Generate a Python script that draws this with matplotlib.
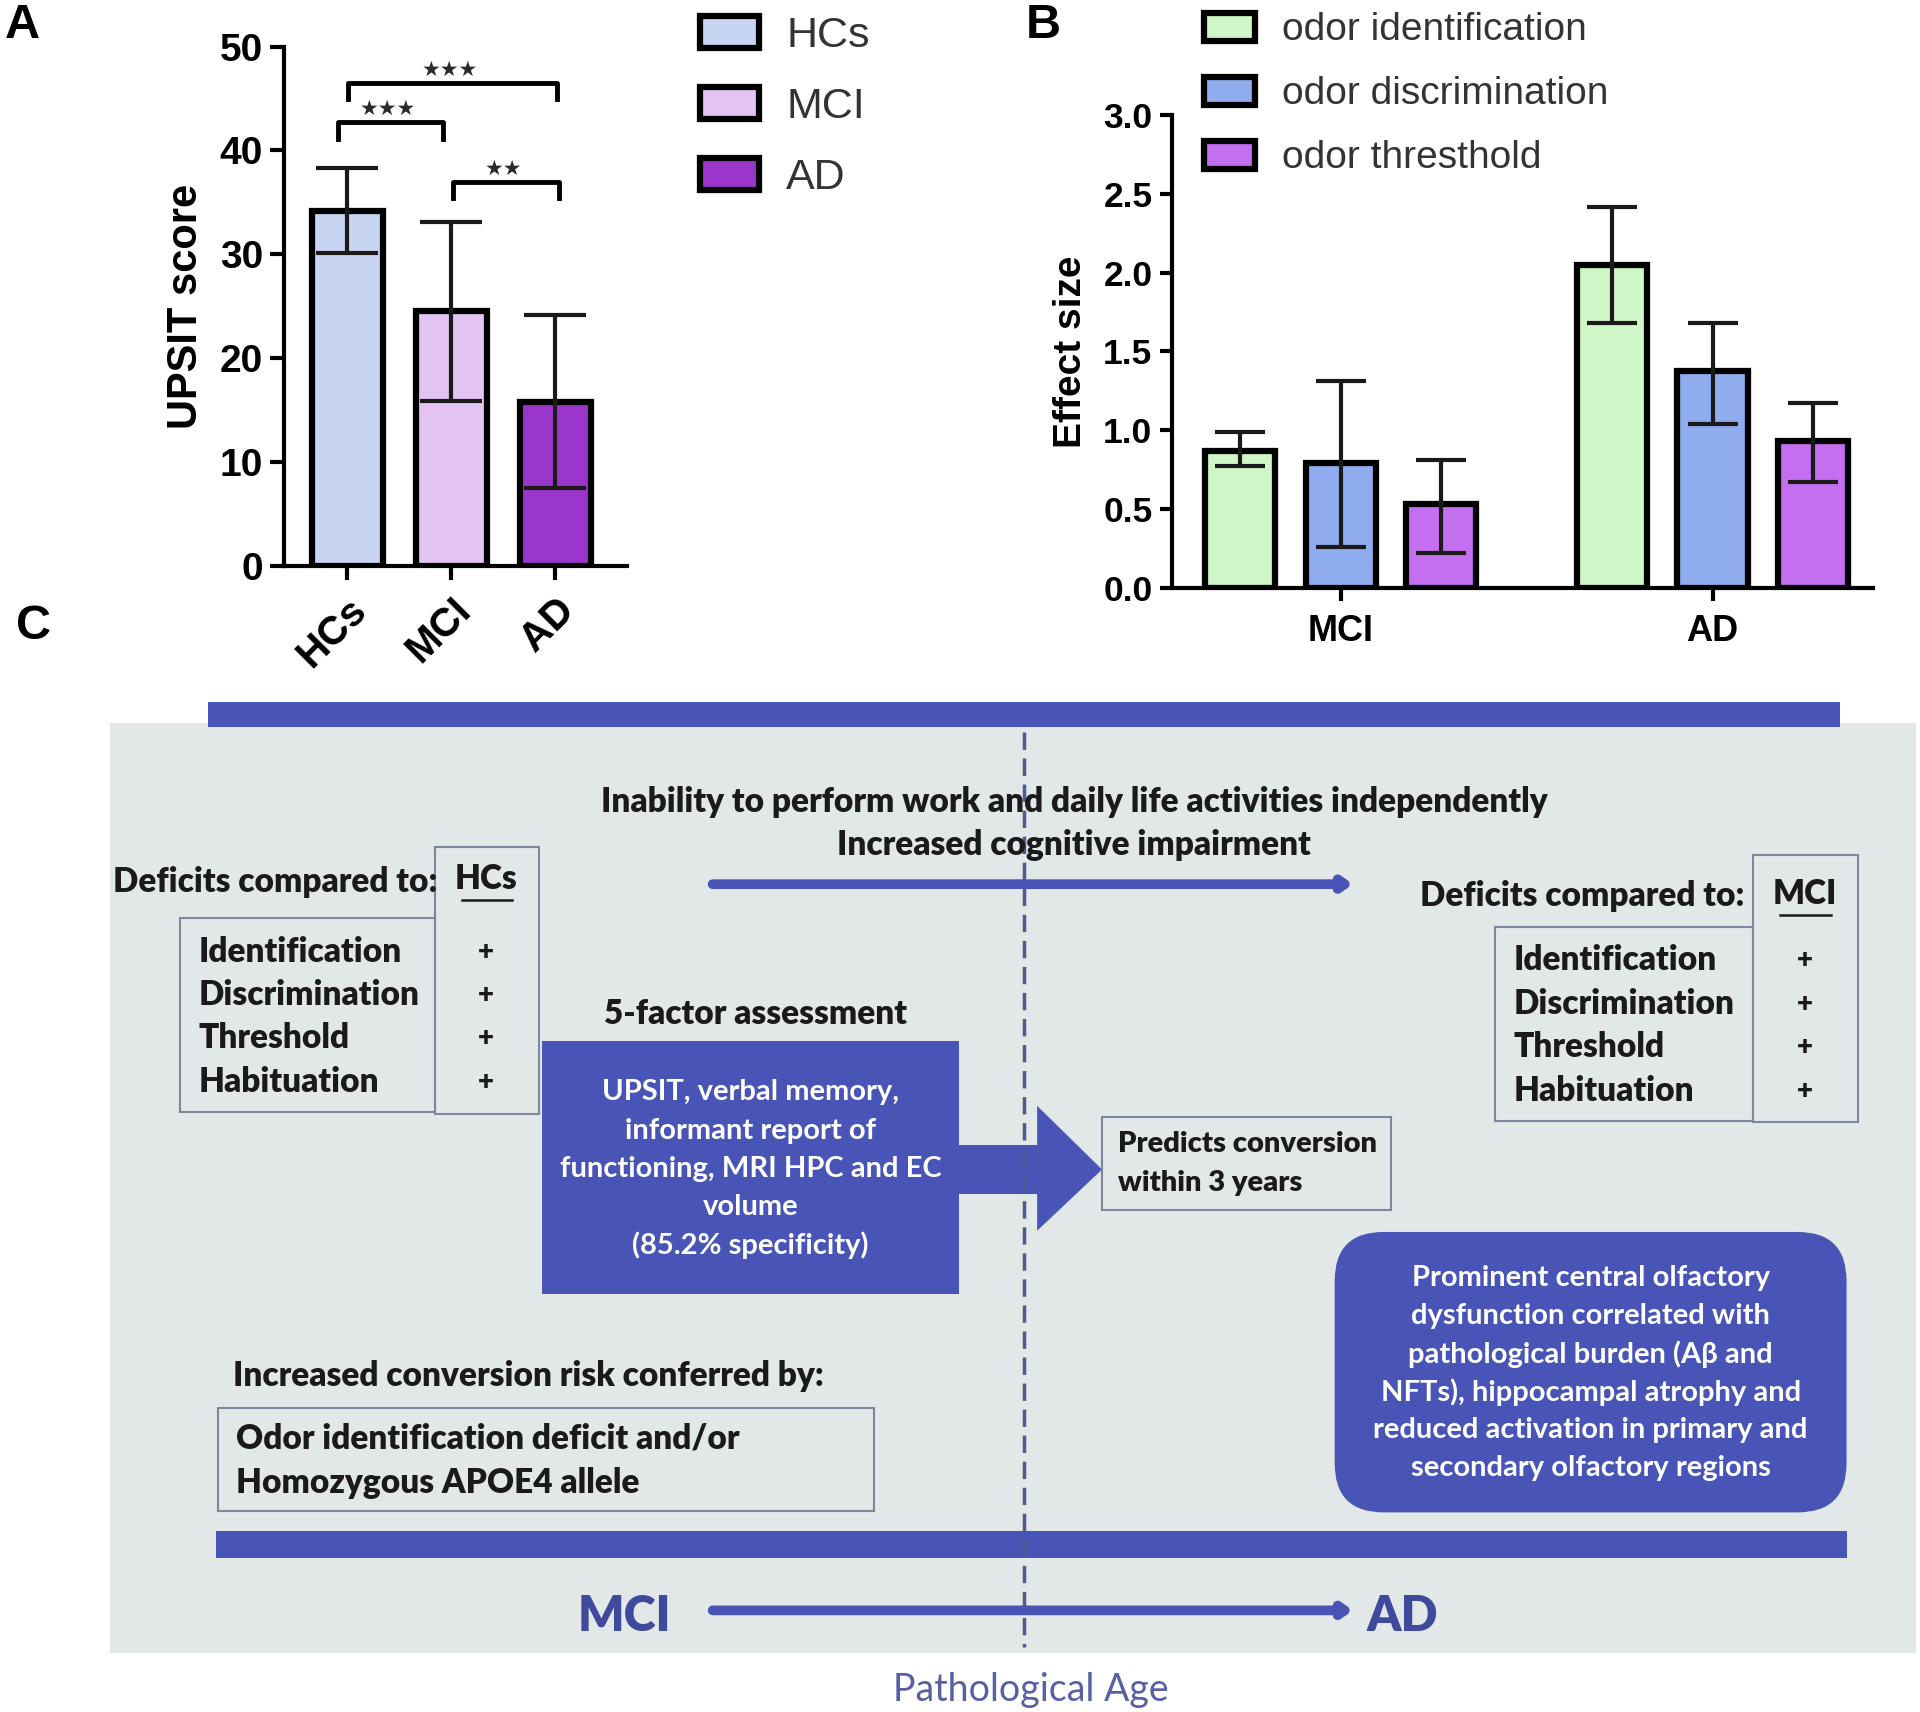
import numpy as np
import matplotlib.pyplot as plt
from matplotlib.patches import Rectangle, FancyBboxPatch, Polygon, Patch

plt.rcParams['font.family'] = ['Liberation Sans', 'DejaVu Sans']

# ---- panel A data
groups_a = ['HCs', 'MCI', 'AD']
upsit_mean = [34.2, 24.5, 15.8]
upsit_err = [4.1, 8.6, 8.3]
colors_a = ['#c8d5f2', '#e2c3f2', '#9b36cc']
sig_pairs = [(0, 1), (0, 2), (1, 2)]
sig_offsets = [(-0.09, -0.08), (0.01, 0.02), (0.02, 0.04)]
sig_text = ['\u2605\u2605\u2605', '\u2605\u2605\u2605', '\u2605\u2605']
sig_height = [42.7, 46.5, 37.0]

# ---- panel B data
groups_b = ['MCI', 'AD']
domains = ['odor identification', 'odor discrimination', 'odor thresthold']
effect_mean = [[0.87, 2.05], [0.79, 1.375], [0.53, 0.93]]
effect_low = [[0.77, 1.68], [0.26, 1.04], [0.22, 0.67]]
effect_high = [[0.99, 2.42], [1.31, 1.68], [0.81, 1.17]]
colors_b = ['#cff6c6', '#8fadee', '#c46ef0']

# ---- panel C text
top_lines = ['Inability to perform work and daily life activities independently',
             'Increased cognitive impairment']
deficit_items = ['Identification', 'Discrimination', 'Threshold', 'Habituation']
assess_lines = ['UPSIT, verbal memory,', 'informant report of',
                'functioning, MRI HPC and EC', 'volume', '(85.2% specificity)']
predict_lines = ['Predicts conversion', 'within 3 years']
risk_lines = ['Odor identification deficit and/or', 'Homozygous APOE4 allele']
central_lines = ['Prominent central olfactory', 'dysfunction correlated with',
                 'pathological burden (A\u03b2 and', 'NFTs), hippocampal atrophy and',
                 'reduced activation in primary and', 'secondary olfactory regions']

W, H = 1568, 1398
BLUE = '#4854b6'
INK = '#1a1a1a'
CFONT = ['Lato', 'DejaVu Sans']
FS = 24        # black text size in panel C
FSW = 21       # white text size in panel C
WB = 'heavy'

fig = plt.figure(figsize=(19.2, 17.12), dpi=100)

# background axes in reference pixel coords (used for panel C + letters)
ax = fig.add_axes([0, 0, 1, 1], zorder=0)
ax.set_xlim(0, W)
ax.set_ylim(H, 0)
ax.axis('off')

ax.text(4, 21, 'A', fontsize=35, fontweight='bold', va='center')
ax.text(838, 21, 'B', fontsize=35, fontweight='bold', va='center')
ax.text(13, 512, 'C', fontsize=35, fontweight='bold', va='center')

ax.add_patch(Rectangle((90, 590), 1475, 760, fc='#e2e7e8', ec='none'))
ax.add_patch(Rectangle((170, 573), 1333, 21, fc=BLUE, ec='none'))
ax.add_patch(Rectangle((176, 1250), 1332, 22, fc=BLUE, ec='none'))
ax.plot([836, 836], [598, 1345], color='#4f5b8c', lw=2.5, ls=(0, (5, 2.5)))

for i, s in enumerate(top_lines):
    ax.text(877, 655 + 35 * i, s, fontsize=FS, fontweight=WB, family=CFONT,
            ha='center', va='center', color=INK)
ax.annotate('', xy=(1105, 722), xytext=(582, 722),
            arrowprops=dict(arrowstyle='-|>,head_length=0.5,head_width=0.35',
                            lw=7, color=BLUE, shrinkA=0, shrinkB=0))


def deficit_block(x_lab, y_lab, col_x, col_y, list_x, list_y, ref):
    ax.text(x_lab, y_lab, 'Deficits compared to:', fontsize=FS, fontweight=WB,
            family=CFONT, va='center', color=INK)
    ax.add_patch(Rectangle((col_x, col_y), 85, 218, fc='none', ec='#7c879c', lw=1.5))
    ax.add_patch(Rectangle((list_x, list_y), col_x - list_x, 158, fc='none',
                           ec='#7c879c', lw=1.5))
    ax.text(col_x + 42, y_lab - 2, ref, fontsize=FS, fontweight=WB, family=CFONT,
            ha='center', va='center', color=INK)
    ax.plot([col_x + 22, col_x + 63], [y_lab + 15, y_lab + 15], color=INK, lw=1.8)
    for j, item in enumerate(deficit_items):
        yy = list_y + 27 + 35.5 * j
        ax.text(list_x + 15, yy, item, fontsize=FS, fontweight=WB, family=CFONT,
                va='center', color=INK)
        ax.text(col_x + 42, yy, '+', fontsize=20, fontweight=WB, family=CFONT,
                ha='center', va='center', color=INK)


deficit_block(92, 720, 355, 692, 147, 750, 'HCs')
deficit_block(1160, 732, 1432, 698, 1221, 757, 'MCI')

ax.text(617, 828, '5-factor assessment', fontsize=FS, fontweight=WB, family=CFONT,
        ha='center', va='center', color=INK)
ax.add_patch(Rectangle((443, 850), 340, 207, fc=BLUE, ec='none'))
for i, s in enumerate(assess_lines):
    ax.text(613, 892 + 31.3 * i, s, fontsize=FSW, family=CFONT, fontweight='bold',
            ha='center', va='center', color='white')
ax.add_patch(Polygon([(783, 935), (847, 935), (847, 903), (900, 955), (847, 1005),
                      (847, 975), (783, 975)], closed=True, fc=BLUE, ec='none'))

ax.add_patch(Rectangle((900, 912), 236, 76, fc='none', ec='#7c879c', lw=1.5))
for i, s in enumerate(predict_lines):
    ax.text(913, 934 + 32 * i, s, fontsize=FSW, fontweight=WB, family=CFONT,
            va='center', color=INK)

ax.add_patch(FancyBboxPatch((1090, 1006), 418, 229,
                            boxstyle='round,pad=0,rounding_size=40', fc=BLUE, ec='none'))
for i, s in enumerate(central_lines):
    ax.text(1299, 1044 + 31 * i, s, fontsize=FSW, fontweight='bold', family=CFONT,
            ha='center', va='center', color='white')

ax.text(190, 1124, 'Increased conversion risk conferred by:', fontsize=FS,
        fontweight=WB, family=CFONT, va='center', color=INK)
ax.add_patch(Rectangle((178, 1150), 536, 84, fc='none', ec='#7c879c', lw=1.5))
for i, s in enumerate(risk_lines):
    ax.text(193, 1175 + 36 * i, s, fontsize=FS, fontweight=WB, family=CFONT,
            va='center', color=INK)

ax.text(510, 1320, 'MCI', fontsize=35, fontweight=WB, family=CFONT,
        ha='center', va='center', color='#3f4a9c')
ax.text(1145, 1320, 'AD', fontsize=35, fontweight=WB, family=CFONT,
        ha='center', va='center', color='#3f4a9c')
ax.annotate('', xy=(1105, 1315), xytext=(582, 1315),
            arrowprops=dict(arrowstyle='-|>,head_length=0.5,head_width=0.35',
                            lw=7, color=BLUE, shrinkA=0, shrinkB=0))
ax.text(842, 1380, 'Pathological Age', fontsize=27, family=CFONT,
        ha='center', va='center', color='#5760a6')

# ---------------- panel A
ax_a = fig.add_axes([232 / W, 1 - 462 / H, 280 / W, 424 / H], zorder=2)
ax_a.patch.set_alpha(0)
xa = np.arange(len(groups_a))
ax_a.errorbar(xa, upsit_mean, yerr=upsit_err, fmt='none', ecolor=INK,
              elinewidth=3, capsize=22, capthick=3, zorder=4)
ax_a.bar(xa, upsit_mean, width=0.68, color=colors_a, edgecolor='black', linewidth=4.5,
         zorder=3)
for (i, j), (oi, oj), t, h in zip(sig_pairs, sig_offsets, sig_text, sig_height):
    x1, x2 = i + oi, j + oj
    ax_a.plot([x1, x1, x2, x2], [h - 1.6, h, h, h - 1.6], color='black', lw=3.5,
              clip_on=False, zorder=5)
    ax_a.text((x1 + x2) / 2 - 0.03, h + 1.25, t, fontsize=15, ha='center',
              va='center', color='#2a2a2a', family=['DejaVu Sans'])
ax_a.set_xlim(-0.61, 2.69)
ax_a.set_ylim(0, 50)
ax_a.set_yticks([0, 10, 20, 30, 40, 50])
ax_a.set_xticks(xa)
ax_a.set_xticklabels(groups_a, rotation=45, ha='right', rotation_mode='anchor',
                     fontweight='bold', fontsize=29)
ax_a.set_ylabel('UPSIT score', fontsize=30, fontweight='bold', labelpad=10)
for lab in ax_a.get_yticklabels():
    lab.set_fontweight('bold')
ax_a.tick_params(axis='y', labelsize=28, length=10, width=3, pad=5)
ax_a.tick_params(axis='x', length=10, width=3, pad=8)
ax_a.spines[['top', 'right']].set_visible(False)
ax_a.spines[['left', 'bottom']].set_linewidth(3)
handles_a = [Patch(facecolor=c, edgecolor='black', linewidth=4.5, label=g)
             for c, g in zip(colors_a, groups_a)]
ax_a.legend(handles=handles_a, loc='upper left', bbox_to_anchor=(572 / W, 1 - 13 / H),
            bbox_transform=fig.transFigure, frameon=False, fontsize=31,
            handlelength=1.36, handleheight=0.74, labelspacing=0.72, handletextpad=0.63,
            borderpad=0, borderaxespad=0, labelcolor='#333333')

# ---------------- panel B
ax_b = fig.add_axes([957 / W, 1 - 480 / H, 573 / W, 386 / H], zorder=2)
ax_b.patch.set_alpha(0)
centers = np.array([0.0, 3.7])
for k, dom in enumerate(domains):
    xb = centers + (k - 1)
    m = np.array(effect_mean[k])
    yerr = [m - np.array(effect_low[k]), np.array(effect_high[k]) - m]
    ax_b.errorbar(xb, m, yerr=yerr, fmt='none', ecolor=INK, elinewidth=3,
                  capsize=18, capthick=3, zorder=4)
    ax_b.bar(xb, m, width=0.7, color=colors_b[k], edgecolor='black', linewidth=4.5,
             zorder=3, label=dom)
ax_b.set_xlim(-1.68, 5.3)
ax_b.set_ylim(0, 3.0)
ax_b.set_yticks(np.arange(0, 3.01, 0.5))
ax_b.set_yticklabels([f'{v:.1f}' for v in np.arange(0, 3.01, 0.5)], fontweight='bold')
ax_b.set_xticks(centers)
ax_b.set_xticklabels(groups_b, fontweight='bold', fontsize=26)
ax_b.set_ylabel('Effect size', fontsize=28, fontweight='bold', labelpad=10)
ax_b.tick_params(axis='y', labelsize=25.5, length=9, width=3, pad=5)
ax_b.tick_params(axis='x', length=9, width=3, pad=10)
ax_b.spines[['top', 'right']].set_visible(False)
ax_b.spines[['left', 'bottom']].set_linewidth(3)
ax_b.legend(loc='upper left', bbox_to_anchor=(983 / W, 1 - 10 / H),
            bbox_transform=fig.transFigure, frameon=False, fontsize=28,
            handlelength=1.32, handleheight=0.72, labelspacing=0.72, handletextpad=0.69,
            borderpad=0, borderaxespad=0, labelcolor='#333333')

fig.savefig('out.png', dpi=100)
